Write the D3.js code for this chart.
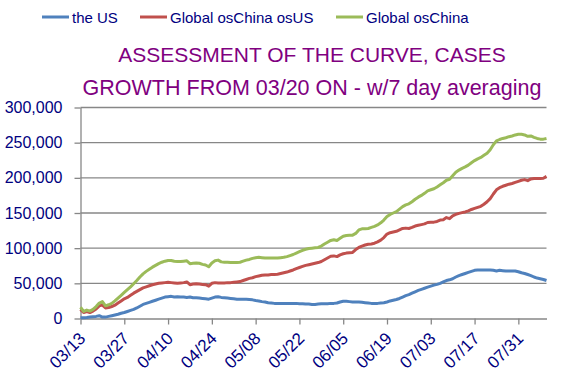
<!DOCTYPE html>
<html>
<head>
<meta charset="utf-8">
<script src="https://cdn.jsdelivr.net/npm/d3@7"></script>
<style>
body { margin: 0; background: #fff; }
text { font-family: "Liberation Sans", Arial, sans-serif; }
</style>
</head>
<body>
<div id="chart"></div>
<script>
// daily new cases, 7 day average, in thousands, starting 03/13
var usK = [
  1.0, 1.2, 1.5, 2, 2.5, 3, 4, 2, 2, 3,
  4, 5, 6, 7.5, 8.5, 10, 11.5, 13, 15, 17.5,
  20, 21.5, 23, 24.5, 26, 27.5, 29, 30.5, 31, 31.5,
  30.5, 31, 30.5, 30.5, 30, 30.5, 29.5, 29.5, 29, 28.5,
  28, 27.5, 29, 30.5, 31, 30, 29.5, 29, 28.5, 28,
  27.5, 27.5, 27.5, 27.5, 27, 26.5, 25.5, 25, 24, 23.5,
  22.5, 22, 21.5, 21.5, 21.5, 21.5, 21.5, 21.5, 21.5, 21.5,
  21, 21, 20.5, 20.5, 20, 20, 20.5, 21, 21, 21,
  21.5, 21.5, 22, 23.5, 24.5, 24.5, 24, 23.5, 23.5, 23.5,
  23, 22.5, 22, 21.5, 21.5, 21.5, 22, 22.5, 23.5, 25,
  26, 27, 28.5, 30.5, 32.5, 34, 36, 38, 40, 41.5,
  43, 44.5, 46, 47.5, 48.5, 50, 52, 54, 55, 56.5,
  59, 61, 62.5, 64, 65.5, 67, 68.5, 69, 69, 69,
  69, 69, 68.5, 67.5, 68.5, 68, 67.5, 67.5, 67.5, 67.5,
  66.5, 65, 64, 62.5, 61, 59, 57.5, 56.5, 55.5, 54
];
var exChinaUsK = [
  13, 8.5, 10, 8.5, 10.5, 13.5, 18, 19, 15, 15.5,
  17, 19, 22, 25, 28, 30, 33, 36, 38.5, 41,
  43.5, 45, 46.5, 48, 49, 50, 50.5, 51, 51.5, 51,
  50.5, 50, 50.5, 51, 52, 48, 49, 49.5, 49, 48.5,
  48, 46, 50, 51, 50.5, 50.5, 50.5, 51, 51, 51.5,
  52, 52.5, 54, 55.5, 57, 58, 59.5, 60.5, 61.5, 62,
  62, 62.5, 62.5, 63, 64, 65, 66, 67.5, 69, 71,
  72.5, 74, 75.5, 76.5, 77.5, 78.5, 79.5, 81, 83.5, 86,
  88.5, 89, 88, 90.5, 92, 93, 93.5, 94, 98, 101,
  103, 104.5, 105.5, 106, 107, 109, 111.5, 115, 120, 122,
  123, 124, 126, 128, 128.5, 128, 129.5, 131.5, 132.5, 133.5,
  134.5, 136.5, 137, 137, 138, 140, 140.5, 143.5, 142, 146,
  148, 149.5, 150.5, 151.5, 153, 155, 156.5, 158, 159.5, 162.5,
  166, 170.5, 177, 183, 186, 188, 189.5, 191, 192, 193.5,
  195, 196.5, 197.5, 196, 198.5, 199, 199, 199, 199.5, 202
];
var exChinaK = [
  16, 10, 12, 10.5, 13, 17, 22, 24, 18, 19.5,
  21.5, 25, 29, 33, 37, 41, 45, 49.5, 54, 59,
  63.5, 67, 70, 73, 75.5, 78, 80, 81.5, 82.5, 82.5,
  81.5, 81, 81, 81.5, 82, 78, 78.5, 79, 78.5, 77,
  76, 73.5, 79, 82, 83, 80.5, 80, 80, 79.5, 79.5,
  79.5, 80, 81.5, 83, 84, 85.5, 86.5, 87, 86.5, 86,
  86, 86, 86, 86, 86.5, 87, 88, 89.5, 91, 93,
  95, 97, 98.5, 99.5, 100, 100.5, 101, 103, 106, 108.5,
  111, 112, 111, 114, 117, 118, 118.5, 118.5, 121, 126,
  127.5, 127.5, 128, 129.5, 131, 133, 136, 140, 145, 148,
  150, 152, 155.5, 159, 161.5, 163, 166, 169.5, 172.5, 175,
  178, 181.5, 183, 184.5, 187, 190, 193, 196.5, 198, 203,
  208, 211, 213.5, 215.5, 218, 221.5, 224.5, 227, 229, 232,
  235, 240, 247, 252.5, 254.5, 256, 257, 258.5, 259.5, 261,
  262, 262, 261, 259, 259.5, 257.5, 256, 255, 255, 256
];
var seriesNames = ["the US", "Global osChina osUS", "Global osChina"];
var seriesColors = ["#4f81bd", "#c0504d", "#9bbb59"];
var xTickLabels = ["03/13", "03/27", "04/10", "04/24", "05/08", "05/22", "06/05", "06/19", "07/03", "07/17", "07/31"];
var yTicks = [0, 50, 100, 150, 200, 250, 300];

var width = 580, height = 389;
var plot = { left: 80.5, right: 546.5, top: 107.5, bottom: 318.5 };
var axisColor = "#878787", labelColor = "#000080", titleColor = "#800080";

var parseDay = d3.timeParse("%m/%d/%Y");
var startDay = parseDay("03/13/2020");
var dates = usK.map(function(d, i) { return d3.timeDay.offset(startDay, i); });
var tickDates = xTickLabels.map(function(s) { return parseDay(s + "/2020"); });

var x = d3.scaleTime()
          .domain([dates[0], dates[dates.length - 1]])
          .range([plot.left, plot.right]);
var y = d3.scaleLinear()
          .domain([0, 300])
          .range([plot.bottom, plot.top]);

var svg = d3.select("#chart")
            .append("svg")
            .attr("width", width)
            .attr("height", height)
            .style("display", "block");

// gridlines
svg.append("g")
   .selectAll("line")
   .data(yTicks.slice(1))
   .enter()
   .append("line")
   .attr("x1", plot.left)
   .attr("x2", plot.right)
   .attr("y1", function(d) { return y(d); })
   .attr("y2", function(d) { return y(d); })
   .style("stroke", axisColor)
   .style("stroke-width", 1.3);

// y axis
var yAxis = svg.append("g")
   .attr("transform", "translate(" + plot.left + ",0)")
   .call(d3.axisLeft(y)
           .tickValues(yTicks)
           .tickSize(6)
           .tickSizeOuter(0)
           .tickPadding(12)
           .tickFormat(function(d) { return d3.format(",")(d * 1000); }));
yAxis.selectAll("line, path").style("stroke", axisColor).style("stroke-width", 1.3);
yAxis.selectAll("text")
     .style("font-size", "16px")
     .style("fill", labelColor);

// x axis
var xAxis = svg.append("g")
   .attr("transform", "translate(0," + plot.bottom + ")")
   .call(d3.axisBottom(x)
           .tickValues(tickDates)
           .tickSize(6)
           .tickSizeOuter(0)
           .tickFormat(function(d, i) { return xTickLabels[i]; }));
xAxis.selectAll("line, path").style("stroke", axisColor).style("stroke-width", 1.3);
xAxis.selectAll("text")
     .attr("x", 0)
     .attr("y", 0)
     .attr("dy", 0)
     .attr("text-anchor", "end")
     .attr("transform", "translate(5.5,21) rotate(-45)")
     .style("font-size", "17px")
     .style("fill", labelColor);

// lines
var line = d3.line()
             .x(function(d, i) { return x(dates[i]); })
             .y(function(d) { return y(d); });

[usK, exChinaUsK, exChinaK].forEach(function(s, k) {
  svg.append("path")
     .datum(s)
     .attr("d", line)
     .style("fill", "none")
     .style("stroke", seriesColors[k])
     .style("stroke-width", 3)
     .style("stroke-linejoin", "round");
});

// legend
var legendX = [42, 140, 336];
var legend = svg.append("g")
                .selectAll(".leg")
                .data(seriesNames)
                .enter()
                .append("g")
                .attr("transform", function(d, i) { return "translate(" + legendX[i] + ",17)"; });
legend.append("line")
      .attr("x1", 0).attr("x2", 27)
      .style("stroke", function(d, i) { return seriesColors[i]; })
      .style("stroke-width", 3);
legend.append("text")
      .attr("x", 30)
      .attr("y", 5.5)
      .style("font-size", "15px")
      .style("fill", labelColor)
      .text(function(d) { return d; });

// title
svg.append("text")
   .attr("x", 312)
   .attr("y", 62)
   .attr("text-anchor", "middle")
   .style("font-size", "21px")
   .style("fill", titleColor)
   .text("ASSESSMENT OF THE CURVE, CASES");
svg.append("text")
   .attr("x", 312)
   .attr("y", 95)
   .attr("text-anchor", "middle")
   .style("font-size", "21.5px")
   .style("fill", titleColor)
   .text("GROWTH FROM 03/20 ON - w/7 day averaging");
</script>
</body>
</html>
